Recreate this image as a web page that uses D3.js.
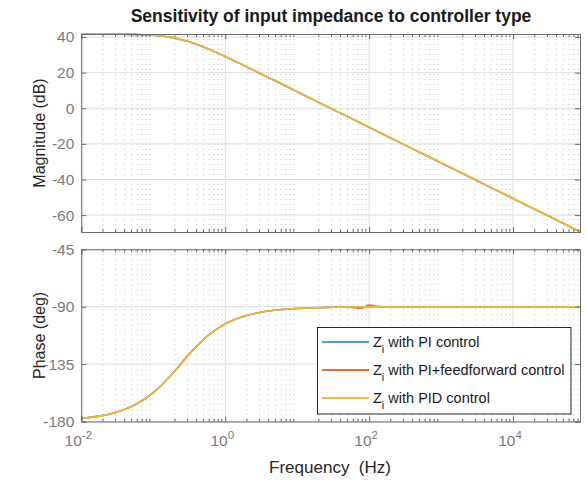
<!DOCTYPE html>
<html lang="en">
<head>
  <meta charset="utf-8">
  <title>Sensitivity of input impedance to controller type</title>
  <script src="https://d3js.org/d3.v7.min.js"></script>
  <style>
    body { margin: 0; background: #fff; }
    svg { font-family: "Liberation Sans", Arial, Helvetica, sans-serif; }
    .tick text { fill: #7a7a7a; font-size: 15.5px; }
    .domain, .tick line { stroke: #6b6b6b; }
  </style>
</head>
<body>
<svg width="587" height="481"></svg>
<script>
// frequency points, log10(Hz)
var freqLog = [-2, -1.75, -1.5, -1.25, -1, -0.75, -0.5, -0.25, 0, 0.25, 0.5, 0.75, 1, 1.25, 1.5,
               1.6, 1.75, 1.85, 1.92, 1.97, 2.02, 2.1, 2.25, 2.5, 2.75, 3, 3.25, 3.5, 3.75, 4,
               4.25, 4.5, 4.75, 4.93];
// magnitude (dB), same for all three controllers
var magDb = [41.69, 41.68, 41.63, 41.47, 41.0, 39.8, 37.33, 33.57, 29.06, 24.22, 19.27, 14.29, 9.3, 4.3, -0.7,
             -2.7, -5.7, -7.7, -9.1, -10.1, -11.1, -12.7, -15.7, -20.7, -25.7, -30.7, -35.7, -40.7, -45.7, -50.7,
             -55.7, -60.7, -65.7, -69.3];
// phase (deg)
var pidPhase = [-177.6, -175.8, -172.5, -166.8, -157.4, -143.5, -127.2, -113.1, -103.5, -97.7, -94.34, -92.44, -91.37, -90.77, -90.43,
                -90.35, -90.24, -90.19, -90.16, -90.15, -90.13, -90.11, -90.08, -90.04, -90.02, -90.01, -90, -90, -90, -90,
                -90, -90, -90, -90];
var ffPhase = [-177.6, -175.8, -172.5, -166.8, -157.4, -143.5, -127.2, -113.1, -103.5, -97.7, -94.34, -92.44, -91.37, -90.77, -90.43,
               -90.3, -90.6, -91.2, -91.0, -89.0, -88.8, -89.6, -90.0, -90.04, -90.02, -90.01, -90, -90, -90, -90,
               -90, -90, -90, -90];
var piPhase = pidPhase.slice();

var seriesNames = ["with PI control", "with PI+feedforward control", "with PID control"];
var colors = ["#4da0df", "#e0703c", "#eeb83c"];
var magTicks = [-60, -40, -20, 0, 20, 40];
var phaseTicks = [-180, -135, -90, -45];
var decadeTicks = [-2, 0, 2, 4];

var svg = d3.select("svg");
var left = 81.3, right = 580;
var magBox = {top: 34, bottom: 232};
var phBox = {top: 249.3, bottom: 421.5};

var freqs = freqLog.map(function(d) { return Math.pow(10, d); });
var x = d3.scaleLog().domain([1e-2, Math.pow(10, 4.93)]).range([left, right]);
var yMag = d3.scaleLinear().domain([-69.5, 41.7]).range([magBox.bottom, magBox.top]);
var yPh = d3.scaleLinear().domain([-180, -45]).range([phBox.bottom, phBox.top]);

// minor tick positions
var minorX = [];
for (var e = -2; e <= 4; e++) {
  for (var m = 2; m <= 9; m++) {
    var v = m * Math.pow(10, e);
    if (v < x.domain()[1]) minorX.push(v);
  }
}
var majorX = decadeTicks.map(function(d) { return Math.pow(10, d); });

function drawPanel(y, box, yTicks, series) {
  var g = svg.append("g");

  // minor grid
  g.selectAll(".mg").data(minorX).enter().append("line")
    .attr("x1", function(d) { return x(d); }).attr("x2", function(d) { return x(d); })
    .attr("y1", box.top).attr("y2", box.bottom)
    .attr("stroke", "#bdbdbd").attr("stroke-width", 0.9).attr("stroke-dasharray", "1,4");
  // major grid
  g.selectAll(".gx").data(majorX).enter().append("line")
    .attr("x1", function(d) { return x(d); }).attr("x2", function(d) { return x(d); })
    .attr("y1", box.top).attr("y2", box.bottom)
    .attr("stroke", "#dcdcdc").attr("stroke-width", 1);
  g.selectAll(".gy").data(yTicks).enter().append("line")
    .attr("x1", left).attr("x2", right)
    .attr("y1", function(d) { return y(d); }).attr("y2", function(d) { return y(d); })
    .attr("stroke", "#dcdcdc").attr("stroke-width", 1);

  // lines
  var line = d3.line()
    .x(function(d, i) { return x(freqs[i]); })
    .y(function(d) { return y(d); })
    .curve(d3.curveMonotoneX);
  series.forEach(function(s, i) {
    g.append("path").datum(s)
      .attr("fill", "none").attr("stroke", colors[i]).attr("stroke-width", 1.6)
      .attr("d", line);
  });

  // axes with inward ticks on all sides
  g.append("g").attr("transform", "translate(0," + box.bottom + ")")
    .call(d3.axisBottom(x).tickValues(majorX).tickSize(-5).tickFormat(""));
  g.append("g").attr("transform", "translate(0," + box.top + ")")
    .call(d3.axisTop(x).tickValues(majorX).tickSize(-5).tickFormat(""));
  [box.bottom, box.top].forEach(function(yy, k) {
    g.selectAll(".mt" + k).data(minorX).enter().append("line")
      .attr("x1", function(d) { return x(d); }).attr("x2", function(d) { return x(d); })
      .attr("y1", yy).attr("y2", k === 0 ? yy - 3 : yy + 3)
      .attr("stroke", "#6b6b6b");
  });
  g.append("g").attr("transform", "translate(" + left + ",0)")
    .call(d3.axisLeft(y).tickValues(yTicks).tickSize(-5).tickPadding(7)
      .tickFormat(function(d) { return String(d); }));
  g.append("g").attr("transform", "translate(" + right + ",0)")
    .call(d3.axisRight(y).tickValues(yTicks).tickSize(-5).tickFormat(""));
  g.selectAll(".domain").attr("stroke", "#6b6b6b");
  return g;
}

drawPanel(yMag, magBox, magTicks, [magDb, magDb, magDb]);
drawPanel(yPh, phBox, phaseTicks, [piPhase, ffPhase, pidPhase]);

// x tick labels: 10^n
var xl = svg.append("g");
decadeTicks.forEach(function(d) {
  var t = xl.append("text")
    .attr("x", x(Math.pow(10, d)) - 3).attr("y", 446)
    .attr("text-anchor", "middle").attr("fill", "#7a7a7a").attr("font-size", 15.5);
  t.append("tspan").text("10");
  t.append("tspan").attr("dy", -7).attr("font-size", 11.5).text(String(d));
});

// titles and labels
svg.append("text").attr("x", 331).attr("y", 22).attr("text-anchor", "middle")
  .attr("font-weight", "bold").attr("font-size", 17.5).attr("fill", "#1a1a1a")
  .text("Sensitivity of input impedance to controller type");
svg.append("text").attr("x", 330).attr("y", 473).attr("text-anchor", "middle")
  .attr("font-size", 17).attr("fill", "#262626").attr("xml:space", "preserve")
  .text("Frequency  (Hz)");
svg.append("text").attr("transform", "translate(45," + (magBox.top + magBox.bottom) / 2 + ") rotate(-90)")
  .attr("text-anchor", "middle").attr("font-size", 16).attr("fill", "#262626")
  .text("Magnitude (dB)");
svg.append("text").attr("transform", "translate(45," + (phBox.top + phBox.bottom) / 2 + ") rotate(-90)")
  .attr("text-anchor", "middle").attr("font-size", 16).attr("fill", "#262626")
  .text("Phase (deg)");

// legend
var lg = svg.append("g");
lg.append("rect").attr("x", 317.5).attr("y", 327.5).attr("width", 253.5).attr("height", 86.5)
  .attr("fill", "#fff").attr("stroke", "#262626").attr("stroke-width", 1);
seriesNames.forEach(function(name, i) {
  var yy = 342 + i * 28;
  lg.append("line").attr("x1", 322).attr("x2", 369).attr("y1", yy).attr("y2", yy)
    .attr("stroke", colors[i]).attr("stroke-width", 1.8);
  var t = lg.append("text").attr("x", 373).attr("y", yy + 5)
    .attr("font-size", 14.5).attr("fill", "#1a1a1a");
  t.append("tspan").text("Z");
  t.append("tspan").attr("dy", 6).attr("font-size", 11).text("i");
  t.append("tspan").attr("dy", -6).text(" " + name);
});
</script>
</body>
</html>
